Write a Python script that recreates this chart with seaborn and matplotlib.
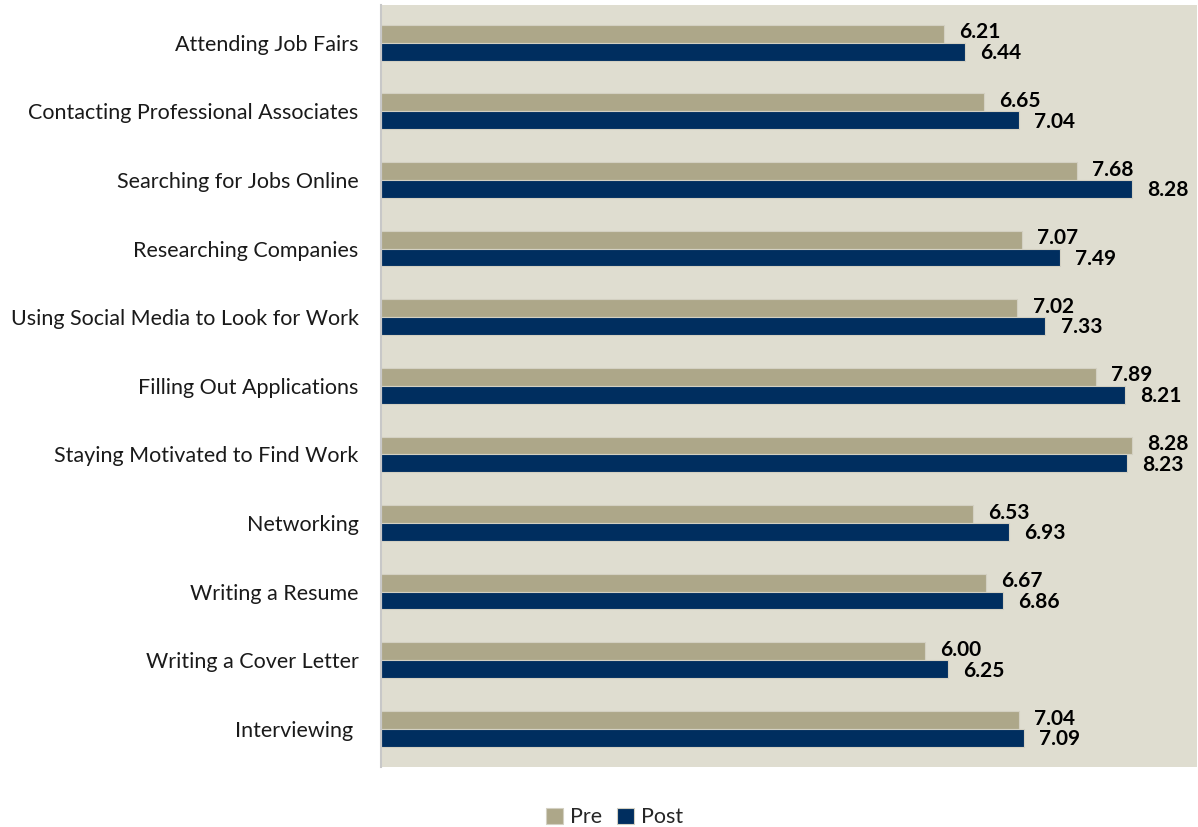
import pandas as pd
import numpy as np
import matplotlib.pyplot as plt
import seaborn as sns


categories = ['Attending Job Fairs', 'Contacting Professional Associates', 'Searching for Jobs Online',
              'Researching Companies', 'Using Social Media to Look for Work', 'Filling Out Applications',
              'Staying Motivated to Find Work', 'Networking', 'Writing a Resume', 'Writing a Cover Letter',
              'Interviewing ']
pre_values = [6.21, 6.65, 7.68, 7.07, 7.02, 7.89, 8.28, 6.53, 6.67, 6.00, 7.04]
post_values = [6.44, 7.04, 8.28, 7.49, 7.33, 8.21, 8.23, 6.93, 6.86, 6.25, 7.09]
series = ['Pre', 'Post']

df = pd.DataFrame({
    'Skill': categories * 2,
    'Score': pre_values + post_values,
    'Period': ['Pre'] * len(categories) + ['Post'] * len(categories),
})

sns.set_style('white')
plt.rcParams['font.family'] = ['Lato', 'DejaVu Sans']

palette = {'Pre': '#ADA789', 'Post': '#002E5F'}

fig = plt.figure(figsize=(11.98, 8.27), dpi=100)
ax = fig.add_axes([0.318, 0.073, 0.681, 0.921])
ax.set_facecolor('#DFDDD0')

sns.barplot(data=df, y='Skill', x='Score', hue='Period', hue_order=series, palette=palette,
            orient='h', width=0.52, saturation=1, ax=ax, legend=True)

for patch in ax.patches:
    patch.set_edgecolor('#D3D0C2')
    patch.set_linewidth(0.8)

# pre labels sit a touch high, post a touch low, so they don't collide
for container, dy in zip(ax.containers, [1, -1]):
    anns = ax.bar_label(container, fmt='%.2f', padding=11, fontsize=15, fontweight='bold', color='black')
    for a in anns:
        a.xyann = (a.xyann[0], dy)

ax.set_xlim(0, 9)
ax.set_ylim(10.55, -0.55)
ax.set_xticks([])
ax.set_xlabel('')
ax.set_ylabel('')
ax.tick_params(axis='y', length=0, labelsize=15.5, pad=16)
for lbl in ax.get_yticklabels():
    lbl.set_color('#1a1a1a')

for side in ['top', 'right', 'bottom']:
    ax.spines[side].set_visible(False)
ax.spines['left'].set_color('#C8C8C8')
ax.spines['left'].set_linewidth(1.5)

handles, labels = ax.get_legend_handles_labels()
ax.legend_.remove()
fig.legend(handles, labels, loc='lower center', bbox_to_anchor=(0.513, -0.024), ncol=2, frameon=False,
           fontsize=15.5, handlelength=0.8, handleheight=0.8, handletextpad=0.3, columnspacing=0.7)

plt.savefig('out.png', dpi=100)
